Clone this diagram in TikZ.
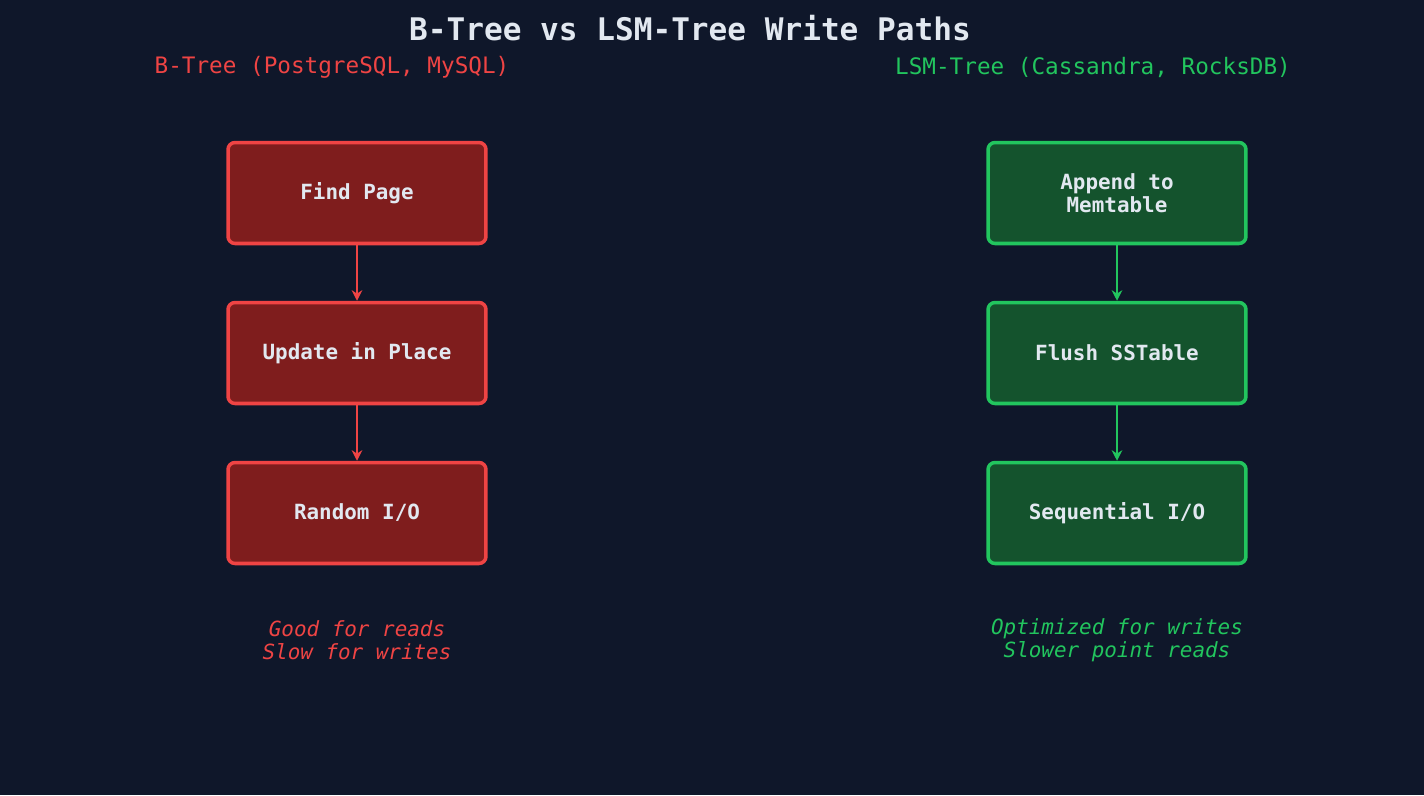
\documentclass[tikz,border=0pt]{standalone}
\usepackage{fontspec}
\setmonofont{DejaVu Sans Mono}
\usetikzlibrary{arrows.meta,positioning}
\definecolor{bgcolor}{HTML}{0F172A}
\definecolor{textcolor}{HTML}{E2E8F0}
\definecolor{redline}{HTML}{EF4444}
\definecolor{redfill}{HTML}{7F1D1D}
\definecolor{greenline}{HTML}{22C55E}
\definecolor{greenfill}{HTML}{14532D}
\tikzset{
  stepbox/.style={draw,line width=2pt,rounded corners=4pt,minimum width=5.16cm,minimum height=2.02cm,
    text=textcolor,font=\ttfamily\bfseries\fontsize{11.9}{13}\selectfont,align=center},
  btree/.style={stepbox,draw=redline,fill=redfill},
  lsm/.style={stepbox,draw=greenline,fill=greenfill},
  flow/.style={-{Stealth[length=6pt,width=6pt]},line width=1.6pt},
  note/.style={font=\ttfamily\itshape\fontsize{11.9}{13}\selectfont,align=center}
}
\begin{document}
\begin{tikzpicture}[x=0.02cm,y=-0.02cm]
			%背景
			\fill[bgcolor](0,0)rectangle(1424,795);
			%标题
			\node[text=textcolor,font=\ttfamily\bfseries\fontsize{17.7}{20}\selectfont] (title) at (690,28) {B-Tree vs LSM-Tree Write Paths};
			\node[text=redline,font=\ttfamily\fontsize{12.9}{15}\selectfont] (lefthead) at (332,67) {B-Tree (PostgreSQL, MySQL)};
			\node[text=greenline,font=\ttfamily\fontsize{12.9}{15}\selectfont] (righthead) at (1093,67) {LSM-Tree (Cassandra, RocksDB)};
			%左侧
			\node[btree] (find) at (357,193) {Find Page};
			\node[btree] (update) at (357,353) {Update in Place};
			\node[btree] (random) at (357,513) {Random I/O};
			\draw[flow,redline] (find)--(update);
			\draw[flow,redline] (update)--(random);
			\node[note,text=redline] (leftnote) at (357,640) {Good for reads\\Slow for writes};
			%右侧
			\node[lsm] (append) at (1117,193) {Append to\\Memtable};
			\node[lsm] (flush) at (1117,353) {Flush SSTable};
			\node[lsm] (seq) at (1117,513) {Sequential I/O};
			\draw[flow,greenline] (append)--(flush);
			\draw[flow,greenline] (flush)--(seq);
			\node[note,text=greenline] (rightnote) at (1117,640) {Optimized for writes\\Slower point reads};
		\end{tikzpicture}
\end{document}
